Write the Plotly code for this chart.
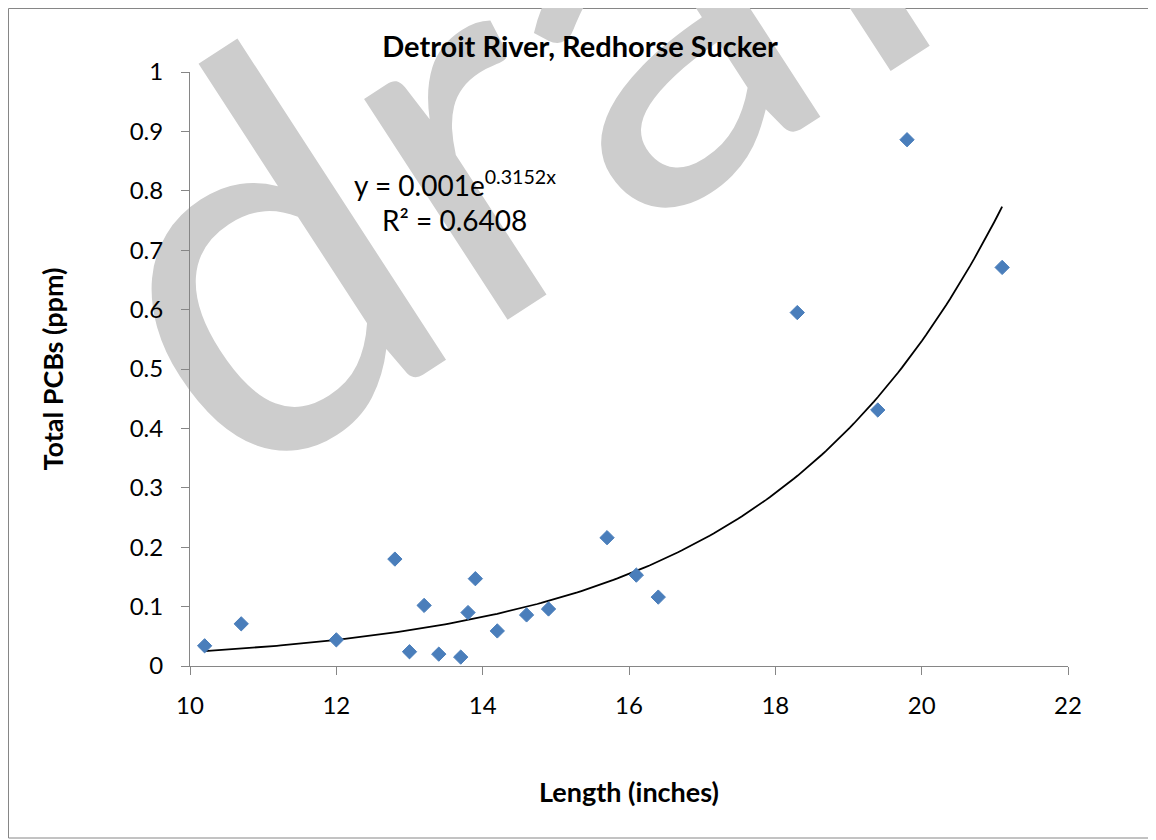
import numpy as np
import plotly.graph_objects as go

# fish length (inches) vs total PCBs (ppm)
length_in = [10.2, 10.7, 12.0, 12.8, 13.0, 13.2, 13.4, 13.7, 13.8, 13.9,
             14.2, 14.6, 14.9, 15.7, 16.1, 16.4, 18.3, 19.4, 19.8, 21.1]
pcb_ppm = [0.034, 0.071, 0.044, 0.180, 0.024, 0.102, 0.020, 0.015, 0.090, 0.147,
           0.059, 0.086, 0.096, 0.216, 0.153, 0.116, 0.595, 0.431, 0.886, 0.671]

# exponential trendline as printed on the chart
FIT_A, FIT_B, FIT_R2 = 0.001, 0.3152, 0.6408

x_ticks = [10, 12, 14, 16, 18, 20, 22]
y_ticks = [0, 0.1, 0.2, 0.3, 0.4, 0.5, 0.6, 0.7, 0.8, 0.9, 1]
y_ticktext = ["0", "0.1", "0.2", "0.3", "0.4", "0.5", "0.6", "0.7", "0.8", "0.9", "1"]

# the page puts the figure 8px in from the top-left corner
OFF = 8
W, H = 1148, 832
L, R, T, B = 182, 88, 64, 174
FONT = "Lato, Calibri, sans-serif"
AXIS_GRAY = "#868686"


def px_to_paper(px, py):
    fx, fy = px - OFF, py - OFF
    return (fx - L) / (W - L - R), (H - B - fy) / (H - T - B)


fit_x = np.linspace(min(length_in), max(length_in), 200)
fit_y = FIT_A * np.exp(FIT_B * fit_x)

fig = go.Figure()

fig.add_trace(go.Scatter(
    x=fit_x, y=fit_y, mode="lines",
    line=dict(color="black", width=1.8),
    showlegend=False, hoverinfo="skip",
))

fig.add_trace(go.Scatter(
    x=length_in, y=pcb_ppm, mode="markers",
    marker=dict(symbol="diamond", size=11, color="#4A7EBB",
                line=dict(color="#4A7EBB", width=1)),
    showlegend=False,
))

# chart border
bx0, by0 = px_to_paper(OFF + 0.5, 838)
bx1, by1 = px_to_paper(1155, OFF + 0.5)
# "draft" watermark behind the chart
wx, wy = px_to_paper(575, 28)

fig.update_layout(
    shapes=[
        dict(type="rect", xref="paper", yref="paper", layer="below",
             x0=bx0, y0=by0, x1=bx1, y1=by1,
             line=dict(color=AXIS_GRAY, width=1), fillcolor="rgba(0,0,0,0)"),
        dict(type="rect", xref="paper", yref="paper", layer="below",
             x0=wx - 0.01, y0=wy - 0.01, x1=wx + 0.01, y1=wy + 0.01,
             line=dict(width=0), fillcolor="rgba(0,0,0,0)",
             label=dict(text="draft", textangle=-33, textposition="middle center",
                        font=dict(family=FONT, size=520, color="#cdcdcd"))),
    ],
)

ex1, ey1 = px_to_paper(455, 183)
ex2, ey2 = px_to_paper(454, 220)
fig.add_annotation(x=ex1, y=ey1, xref="paper", yref="paper", showarrow=False,
                   xanchor="center", yanchor="middle",
                   text=f"y = {FIT_A}e<sup>{FIT_B}x</sup>",
                   font=dict(family=FONT, size=28, color="black"))
fig.add_annotation(x=ex2, y=ey2, xref="paper", yref="paper", showarrow=False,
                   xanchor="center", yanchor="middle",
                   text=f"R² = {FIT_R2}",
                   font=dict(family=FONT, size=28, color="black"))

fig.update_layout(
    width=W, height=H,
    margin=dict(l=L, r=R, t=T, b=B),
    paper_bgcolor="white",
    plot_bgcolor="rgba(0,0,0,0)",
    title=dict(text="<b>Detroit River, Redhorse Sucker</b>",
               x=(580 - OFF) / W, xanchor="center",
               y=1 - (47 - OFF) / H, yanchor="middle", yref="container",
               font=dict(family=FONT, size=29, color="black")),
    xaxis=dict(
        range=[10, 22], tickvals=x_ticks,
        showgrid=False, zeroline=False,
        showline=True, linecolor=AXIS_GRAY, linewidth=1,
        ticks="outside", ticklen=8, tickcolor=AXIS_GRAY, tickwidth=1,
        ticklabelstandoff=10,
        tickfont=dict(family=FONT, size=24, color="black"),
        title=dict(text="<b>Length (inches)</b>", standoff=65,
                   font=dict(family=FONT, size=27, color="black")),
    ),
    yaxis=dict(
        range=[0, 1], tickvals=y_ticks, ticktext=y_ticktext,
        showgrid=False, zeroline=False,
        showline=True, linecolor=AXIS_GRAY, linewidth=1,
        ticks="outside", ticklen=8, tickcolor=AXIS_GRAY, tickwidth=1,
        ticklabelstandoff=13,
        tickfont=dict(family=FONT, size=24, color="black"),
        title=dict(text="<b>Total PCBs (ppm)</b>", standoff=58,
                   font=dict(family=FONT, size=27, color="black")),
    ),
)

fig.write_html("out.html")
